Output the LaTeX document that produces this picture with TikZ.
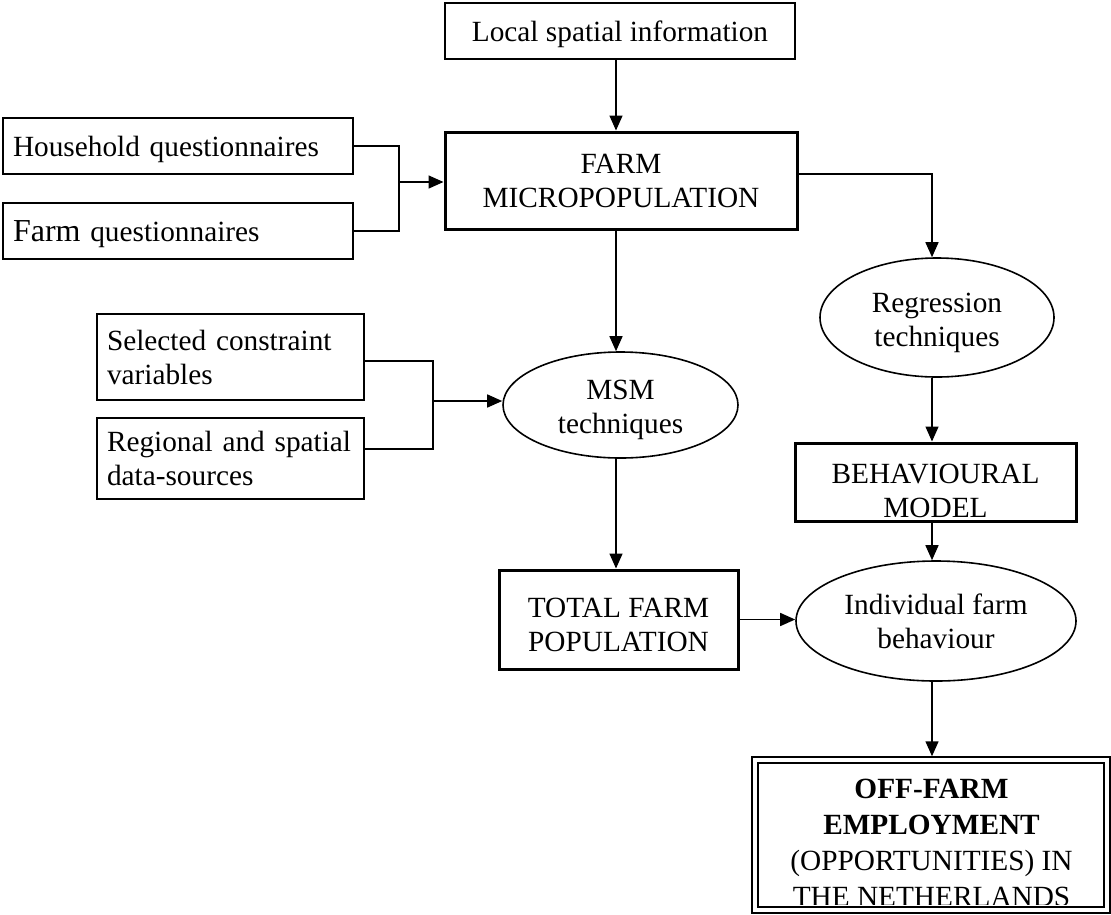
\documentclass[tikz,border=0pt]{standalone}
\usepackage{fontspec}
\setmainfont{Liberation Serif}
\usetikzlibrary{arrows.meta,shapes.geometric}
\begin{document}
\begin{tikzpicture}[x=1pt,y=-1pt,
  every node/.style={font=\fontsize{29.3}{34}\selectfont, inner sep=0pt},
  thinbox/.style={draw, rectangle, line width=1.5pt},
  thickbox/.style={draw, rectangle, line width=3pt},
  oval/.style={draw, ellipse, line width=1.6pt},
  conn/.style={line width=1.5pt},
  arr/.style={conn, -{Triangle[length=15pt,width=13pt]}}]
\useasboundingbox (0,0) rectangle (1111,914);
\coordinate (cA) at (616,0);
\coordinate (cB) at (932,0);

% boxes
\node[thinbox, minimum width=350pt, minimum height=56pt, text depth=0pt] (loc) at (620,31) {Local spatial information};
\node[thickbox, minimum width=352pt, minimum height=97pt, align=center] (farm) at (621,180.5) {FARM\\MICROPOPULATION};
\node[thinbox, minimum width=350pt, minimum height=56pt, text width=330pt, align=left, text depth=0pt] (hh) at (178,146) {Household questionnaires};
\node[thinbox, minimum width=350pt, minimum height=56pt, text width=330pt, align=left, text depth=0pt] (fq) at (178,231) {{\fontsize{32}{34}\selectfont Farm} questionnaires};
\node[thinbox, minimum width=267pt, minimum height=86pt, text width=247pt, align=left] (sel) at (230.5,357) {Selected constraint\\variables};
\node[thinbox, minimum width=267pt, minimum height=81pt, text width=247pt, align=left] (reg) at (230.5,458.5) {Regional and spatial\\data-sources};
\node[oval, minimum width=235pt, minimum height=106pt, align=center] (msm) at (620.5,405) {\rule{0pt}{28.5pt}MSM\\techniques};
\node[oval, minimum width=234pt, minimum height=119pt, align=center] (regr) at (937,317.5) {\rule{0pt}{29.5pt}Regression\\techniques};
\node[thickbox, minimum width=281pt, minimum height=78pt, align=center] (beh) at (935.5,482) {\rule{0pt}{36.4pt}BEHAVIOURAL\\MODEL};
\node[thickbox, minimum width=239pt, minimum height=99pt, align=center] (total) at (618.5,619.5) {\rule{0pt}{29.4pt}TOTAL FARM\\POPULATION};
\node[oval, minimum width=280pt, minimum height=120pt, align=center] (indiv) at (936,621) {Individual farm\\behaviour};
\node[draw, line width=2pt, double, double distance=3.5pt, minimum width=352pt, minimum height=150pt, outer sep=3.75pt] (off) at (931,835) {};
\begin{scope}
  \clip (757,763) rectangle (1106,904);
  \node[anchor=north, align=center, font=\fontsize{29.3}{36}\selectfont] (offtext) at (931.5,779) {\textbf{OFF-FARM}\\\textbf{EMPLOYMENT}\\(OPPORTUNITIES) IN\\THE NETHERLANDS};
\end{scope}

% connectors
\draw[arr] (loc.south -| cA) -- (farm.north -| cA);
\coordinate (j1) at (399,182);
\draw[conn] (hh.east) -| (j1) |- (fq.east);
\draw[arr] (j1) -- (j1 -| farm.west);
\draw[arr] ([yshift=6.5pt]farm.east) -| (regr.north -| cB);
\draw[arr] (farm.south -| cA) -- (msm.north -| cA);
\coordinate (j2) at (433,401);
\draw[conn] ([yshift=-4pt]sel.east) -| (j2) |- ([yshift=9.5pt]reg.east);
\draw[arr] (j2) -- (j2 -| msm.west);
\draw[arr] (msm.south -| cA) -- (total.north -| cA);
\draw[arr] (total.east) -- (total.east -| indiv.west);
\draw[arr] (regr.south -| cB) -- (beh.north -| cB);
\draw[arr] (beh.south -| cB) -- (indiv.north -| cB);
\draw[arr] (indiv.south -| cB) -- (off.north -| cB);
\end{tikzpicture}
\end{document}
